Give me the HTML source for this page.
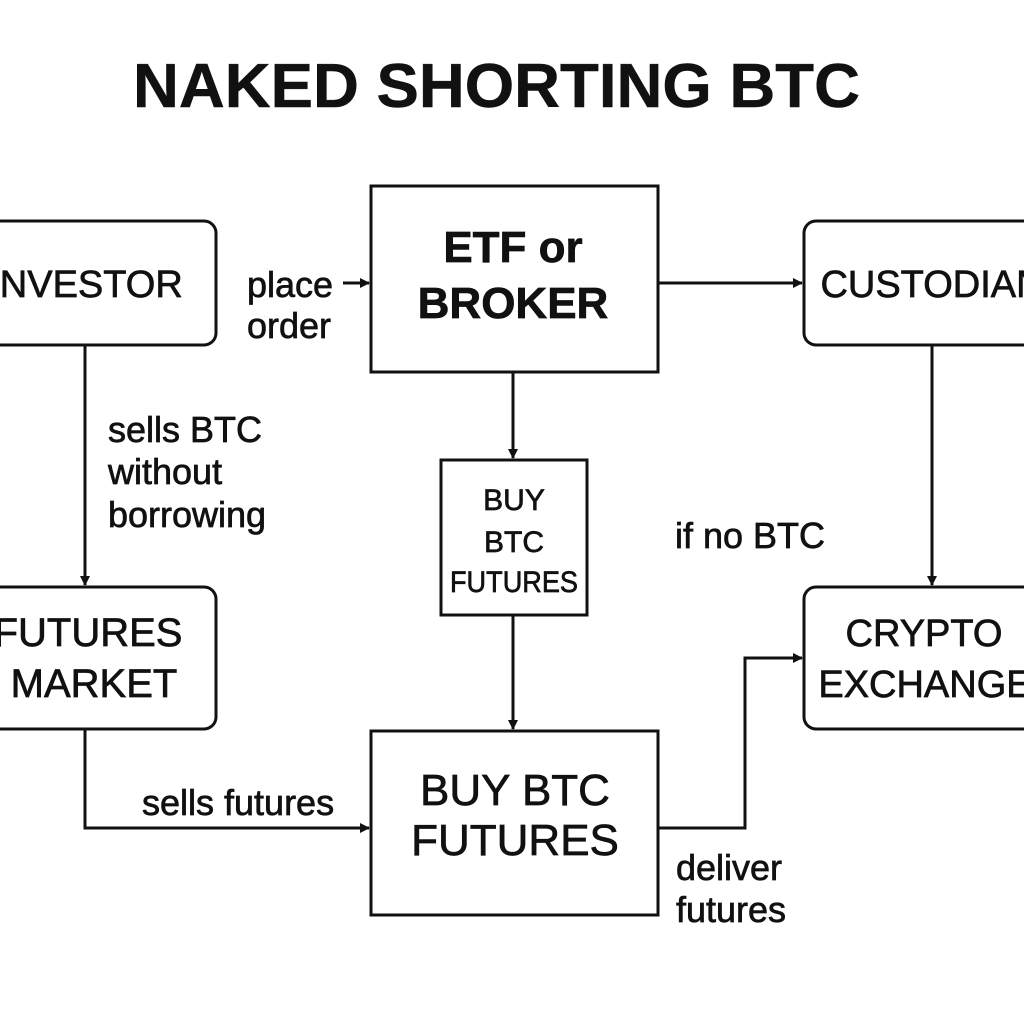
<!DOCTYPE html>
<html><head><meta charset="utf-8"><style>
html,body{margin:0;padding:0;background:#fff;}
svg{display:block;}
text{font-family:"Liberation Sans",sans-serif;fill:#111;stroke:#111;stroke-width:0.7px;}
</style></head><body>
<svg width="1024" height="1024" viewBox="0 0 1024 1024" xmlns="http://www.w3.org/2000/svg">
<defs>
<marker id="a" markerWidth="10" markerHeight="10" refX="9" refY="5" orient="auto" markerUnits="userSpaceOnUse">
<path d="M0,0 L10,5 L0,10 z" fill="#111"/>
</marker>
</defs>
<text x="133" y="107" font-size="62" font-weight="bold" textLength="727" lengthAdjust="spacingAndGlyphs" style="stroke-width:0.5px">NAKED SHORTING BTC</text>
<g fill="none" stroke="#111" stroke-width="3">
<rect x="-30" y="221" width="246" height="124" rx="12"/>
<rect x="371" y="186" width="287" height="186"/>
<rect x="804" y="221" width="260" height="124" rx="12"/>
<rect x="441" y="460" width="146" height="155"/>
<rect x="-30" y="587" width="246" height="142" rx="12"/>
<rect x="804" y="587" width="260" height="142" rx="12"/>
<rect x="371" y="731" width="287" height="184"/>
<line x1="343" y1="283" x2="369" y2="283" marker-end="url(#a)"/>
<line x1="658" y1="283" x2="802" y2="283" marker-end="url(#a)"/>
<line x1="85" y1="345" x2="85" y2="585" marker-end="url(#a)"/>
<line x1="513" y1="372" x2="513" y2="458" marker-end="url(#a)"/>
<line x1="513" y1="615" x2="513" y2="729" marker-end="url(#a)"/>
<line x1="932" y1="345" x2="932" y2="585" marker-end="url(#a)"/>
<polyline points="85,729 85,828 369,828" marker-end="url(#a)"/>
<polyline points="658,828 745,828 745,658 802,658" marker-end="url(#a)"/>
</g>
<g font-size="38" text-anchor="middle">
<text x="86" y="297">INVESTOR</text>
<text x="88" y="646" font-size="40">FUTURES</text>
<text x="94" y="697" font-size="40">MARKET</text>
<text x="932" y="297">CUSTODIAN</text>
<text x="924" y="646">CRYPTO</text>
<text x="925" y="697">EXCHANGE</text>
</g>
<g font-size="44" text-anchor="middle" font-weight="bold" style="stroke-width:0.3px">
<text x="513" y="262">ETF or</text>
<text x="513" y="318">BROKER</text>
</g>
<g font-size="44" text-anchor="middle">
<text x="515" y="805">BUY BTC</text>
<text x="515" y="855">FUTURES</text>
</g>
<g font-size="30" text-anchor="middle">
<text x="514" y="510">BUY</text>
<text x="514" y="552">BTC</text>
<text x="514" y="592" textLength="128" lengthAdjust="spacingAndGlyphs">FUTURES</text>
</g>
<g font-size="36">
<text x="247" y="297">place</text>
<text x="247" y="338">order</text>
<text x="108" y="442">sells BTC</text>
<text x="108" y="484">without</text>
<text x="108" y="527">borrowing</text>
<text x="675" y="548">if no BTC</text>
<text x="142" y="815">sells futures</text>
<text x="676" y="880">deliver</text>
<text x="676" y="922">futures</text>
</g>
</svg>
</body></html>
